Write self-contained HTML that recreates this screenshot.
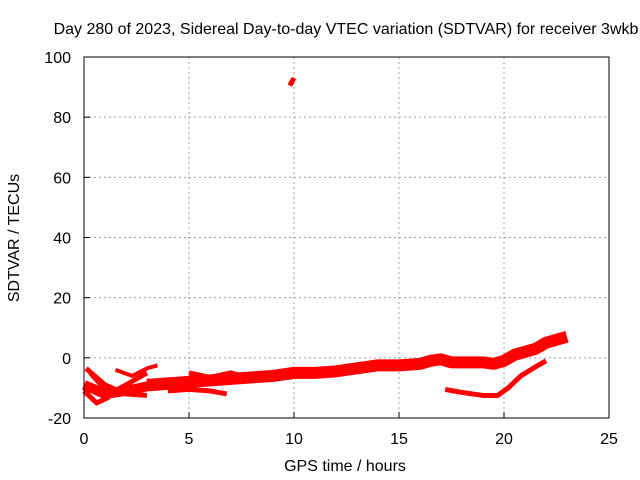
<!DOCTYPE html>
<html><head><meta charset="utf-8"><style>
body{margin:0;background:#fff}
svg{display:block;font-family:"Liberation Sans",sans-serif}
</style></head><body>
<svg id="c" width="640" height="480">
<text x="346" y="34" font-size="16" text-anchor="middle">Day 280 of 2023, Sidereal Day-to-day VTEC variation (SDTVAR) for receiver 3wkb</text>
<text x="345" y="471" font-size="16" text-anchor="middle">GPS time / hours</text>
<text transform="translate(19,238) rotate(-90)" font-size="16" text-anchor="middle">SDTVAR / TECUs</text>
<g id="grid"></g><g id="marks"></g>
<rect x="84" y="57" width="525" height="361" fill="none" stroke="#000" stroke-width="1"/>
</svg>
<script>
const xTicks=[0,5,10,15,20,25];
const yTicks=[-20,0,20,40,60,80,100];
const mainX=[3,4,5,6,7,8,9,10,11,12,13,14,15,16,16.5,17,17.5,18,19,19.5,20,20.5,21,21.5,22,22.5,23];
const mainY=[-9,-8.5,-8,-7.5,-7,-6.5,-6,-5,-5,-4.5,-3.5,-2.5,-2.5,-2,-1,-0.5,-1.5,-1.5,-1.5,-2,-1,1,2,3,5,6,7];
const arcX=[17.2,18,19,19.7,20.2,20.8,21.5,22];
const arcY=[-10.5,-11.5,-12.5,-12.5,-10,-6,-3,-1];
const t1X=[0,1,2,3,4,5];const t1Y=[-9,-12,-11,-9.5,-9,-8.5];
const t2X=[0,0.6,1.2];const t2Y=[-11,-15,-13];
const t3X=[0.3,1.2,2,3];const t3Y=[-5,-12,-9,-5];
const t4X=[1.5,2.3,3,3.5];const t4Y=[-4,-6,-3.5,-2.5];
const t5X=[4,5,6,6.8];const t5Y=[-11,-10.5,-11,-12];
const t6X=[0.1,1,2,3];const t6Y=[-3.5,-9,-12,-12.5];
const t7X=[5,6,7,8];const t7Y=[-5,-6.5,-5,-7];
const spikeX=[9.8,10];const spikeY=[90.5,93];
const sx=h=>84+h*21, sy=v=>418-(v+20)*361/120;
const NS="http://www.w3.org/2000/svg";
const grid=document.getElementById('grid'), marks=document.getElementById('marks');
xTicks.forEach(t=>{
 if(t>0&&t<25){const l=document.createElementNS(NS,'line');
 
 
 l.setAttribute('x1',sx(t));l.setAttribute('x2',sx(t));l.setAttribute('y1',57);l.setAttribute('y2',418);
 l.setAttribute('stroke','#a0a0a0');l.setAttribute('stroke-dasharray','2,3');grid.appendChild(l);}
 const tk=document.createElementNS(NS,'line');
 
 
 tk.setAttribute('x1',sx(t));tk.setAttribute('x2',sx(t));tk.setAttribute('y1',418);tk.setAttribute('y2',412);tk.setAttribute('stroke','#000');grid.appendChild(tk);
 const tx=document.createElementNS(NS,'text');
 
 
 tx.setAttribute('x',sx(t));tx.setAttribute('y',444);tx.setAttribute('font-size','16');tx.setAttribute('text-anchor','middle');tx.textContent=t;grid.appendChild(tx);
});
yTicks.forEach(t=>{
 if(t>-20&&t<100){const l=document.createElementNS(NS,'line');
 
 
 l.setAttribute('x1',84);l.setAttribute('x2',609);l.setAttribute('y1',sy(t));l.setAttribute('y2',sy(t));
 l.setAttribute('stroke','#a0a0a0');l.setAttribute('stroke-dasharray','2,3');grid.appendChild(l);}
 const tk=document.createElementNS(NS,'line');
 
 
 tk.setAttribute('x1',84);tk.setAttribute('x2',90);tk.setAttribute('y1',sy(t));tk.setAttribute('y2',sy(t));tk.setAttribute('stroke','#000');grid.appendChild(tk);
 const tx=document.createElementNS(NS,'text');
 
 
 tx.setAttribute('x',71);tx.setAttribute('y',sy(t)+6);tx.setAttribute('font-size','16');tx.setAttribute('text-anchor','end');tx.textContent=t;grid.appendChild(tx);
});
function track(xs,ys,w,name){
 const p=document.createElementNS(NS,'polyline');
 
 
 p.setAttribute('points',xs.map((x,i)=>sx(x)+','+sy(ys[i])).join(' '));
 p.setAttribute('fill','none');p.setAttribute('stroke','#f00');p.setAttribute('stroke-width',w);
 p.setAttribute('stroke-linejoin','round');marks.appendChild(p);
}
track(mainX,mainY,12,'main-band');
track(arcX,arcY,5,'lower-arc');
track(t1X,t1Y,10,'early-track-1');
track(t2X,t2Y,5,'early-track-2');
track(t3X,t3Y,5,'early-track-3');
track(t4X,t4Y,4,'early-track-4');
track(t5X,t5Y,5,'early-track-5');
track(t6X,t6Y,5,'early-track-6');
track(t7X,t7Y,5,'early-track-7');
track(spikeX,spikeY,5,'spike');
</script>
</body></html>
